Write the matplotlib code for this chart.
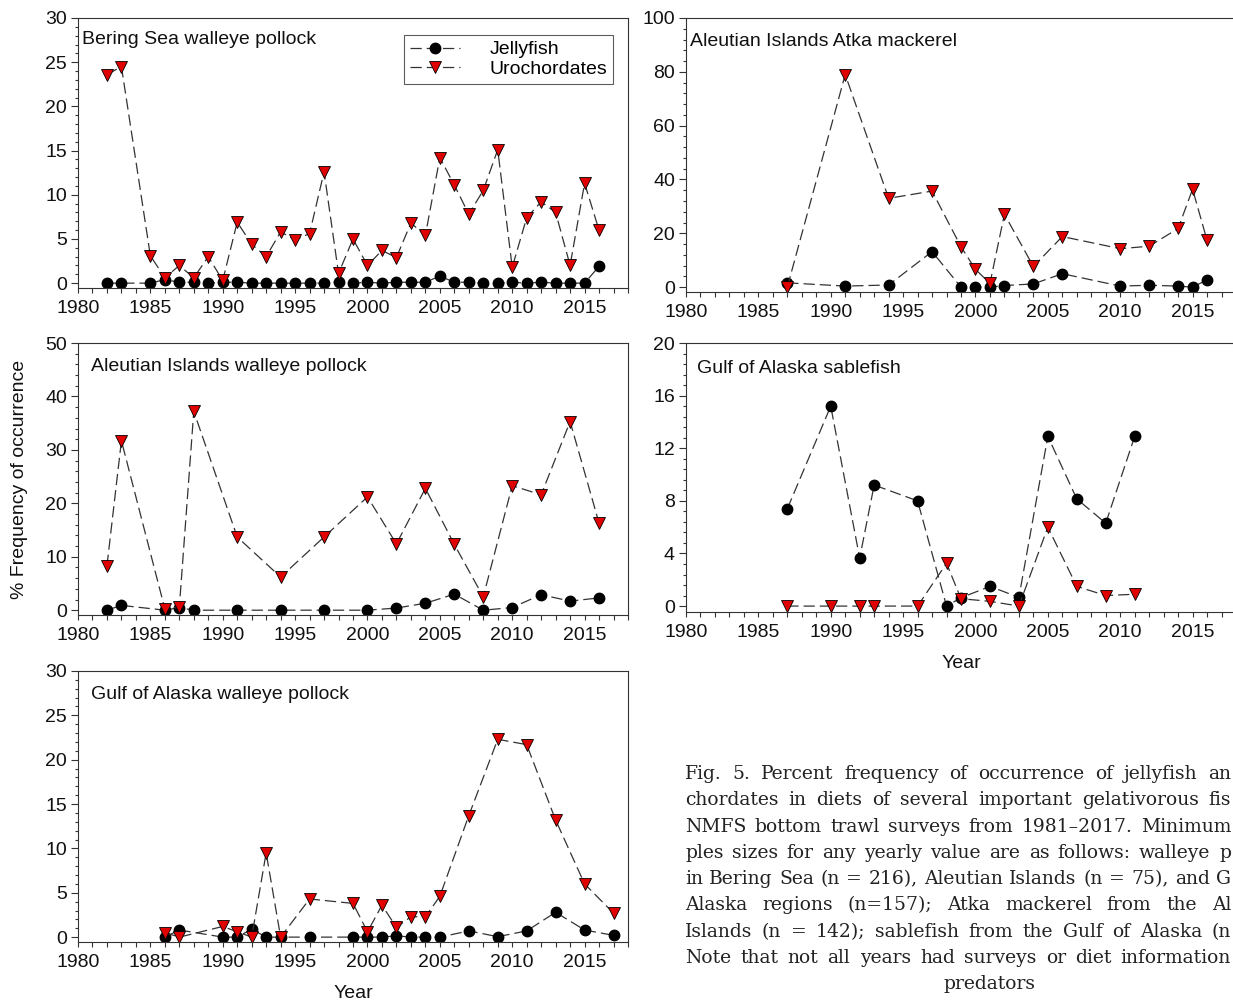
import matplotlib.pyplot as plt
from matplotlib.ticker import MultipleLocator, AutoMinorLocator

plt.rcParams['font.family'] = ['Liberation Sans', 'DejaVu Sans']

# Bering Sea walleye pollock
bs_years = [1982, 1983, 1985, 1986, 1987, 1988, 1989, 1990, 1991, 1992, 1993, 1994,
            1995, 1996, 1997, 1998, 1999, 2000, 2001, 2002, 2003, 2004, 2005, 2006,
            2007, 2008, 2009, 2010, 2011, 2012, 2013, 2014, 2015, 2016]
bs_jelly = [0, 0, 0, 0.4, 0.1, 0.1, 0, 0.1, 0.1, 0, 0, 0,
            0, 0, 0, 0.1, 0, 0.1, 0, 0.1, 0.1, 0.1, 0.8, 0.1,
            0.1, 0, 0, 0.1, 0, 0.1, 0, 0, 0, 1.9]
bs_uro = [23.6, 24.5, 3.1, 0.6, 2.0, 0.6, 3.0, 0.3, 6.9, 4.4, 3.0, 5.8,
          4.9, 5.6, 12.6, 1.1, 5.0, 2.0, 3.7, 2.9, 6.8, 5.4, 14.2, 11.1,
          7.8, 10.5, 15.1, 1.8, 7.4, 9.2, 8.0, 2.0, 11.3, 6.0]

# Aleutian Islands Atka mackerel
am_years = [1987, 1991, 1994, 1997, 1999, 2000, 2001, 2002, 2004, 2006, 2010, 2012,
            2014, 2015, 2016]
am_jelly = [1.6, 0.4, 0.8, 13.2, 0, 0, 0, 0.6, 1.2, 5.0, 0.4, 0.7, 0.4, 0, 2.7]
am_uro = [0, 79, 33, 35.7, 15, 6.6, 1.4, 27.1, 7.7, 18.8, 14.3, 15.2, 21.8, 36.4, 17.4]

# Aleutian Islands walleye pollock
ai_years = [1982, 1983, 1986, 1987, 1988, 1991, 1994, 1997, 2000, 2002, 2004, 2006,
            2008, 2010, 2012, 2014, 2016]
ai_jelly = [0, 0.9, 0, 0.5, 0, 0, 0, 0, 0, 0.4, 1.3, 3.0, 0, 0.5, 2.9, 1.7, 2.3]
ai_uro = [8.3, 31.7, 0.25, 0.55, 37.2, 13.7, 6.2, 13.7, 21.2, 12.4, 22.8, 12.3,
          2.5, 23.3, 21.6, 35.3, 16.3]

# Gulf of Alaska sablefish
sf_years = [1987, 1990, 1992, 1993, 1996, 1998, 1999, 2001, 2003, 2005, 2007, 2009, 2011]
sf_jelly = [7.4, 15.2, 3.65, 9.2, 8.0, 0, 0.63, 1.5, 0.66, 12.9, 8.15, 6.3, 12.9]
sf_uro = [0, 0, 0, 0, 0, 3.25, 0.56, 0.36, 0, 6.0, 1.5, 0.8, 0.9]

# Gulf of Alaska walleye pollock
ga_years = [1986, 1987, 1990, 1991, 1992, 1993, 1994, 1996, 1999, 2000, 2001, 2002,
            2003, 2004, 2005, 2007, 2009, 2011, 2013, 2015, 2017]
ga_jelly = [0, 0.8, 0, 0, 0.9, 0, 0, 0, 0, 0, 0, 0.15,
            0, 0, 0, 0.7, 0.05, 0.7, 2.8, 0.8, 0.2]
ga_uro = [0.5, 0, 1.2, 0.6, 0, 9.5, 0, 4.3, 3.8, 0.6, 3.6, 1.1,
          2.3, 2.3, 4.6, 13.7, 22.3, 21.7, 13.2, 6.0, 2.7]

caption = [
    "Fig. 5. Percent frequency of occurrence of jellyfish an",
    "chordates in diets of several important gelativorous fis",
    "NMFS bottom trawl surveys from 1981\u20132017. Minimum",
    "ples sizes for any yearly value are as follows: walleye p",
    "in Bering Sea (n = 216), Aleutian Islands (n = 75), and G",
    "Alaska regions (n=157); Atka mackerel from the Al",
    "Islands (n = 142); sablefish from the Gulf of Alaska (n",
    "Note that not all years had surveys or diet information",
]

W, H = 1233, 1006
fig = plt.figure(figsize=(W / 100, H / 100), dpi=100)


def box(left, top, right, bottom):
    return [left / W, 1 - bottom / H, (right - left) / W, (bottom - top) / H]


FS = 14
INK = '#333333'
RED = '#e00000'


def panel(rect, years, jelly, uro, title, ymax, ystep, ymin, tx, ty):
    ax = fig.add_axes(rect)
    ax.plot(years, jelly, color=INK, lw=0.9, dashes=(9, 4), marker='o', ms=7.5,
            mfc='black', mec='black', label='Jellyfish')
    ax.plot(years, uro, color=INK, lw=0.9, dashes=(9, 4), marker='v', ms=8.5,
            mfc=RED, mec='black', mew=0.6, label='Urochordates')
    ax.set_xlim(1980, 2018)
    ax.set_ylim(ymin, ymax)
    ax.xaxis.set_major_locator(MultipleLocator(5))
    ax.xaxis.set_minor_locator(MultipleLocator(1))
    ax.yaxis.set_major_locator(MultipleLocator(ystep))
    ax.yaxis.set_minor_locator(AutoMinorLocator(5))
    ax.tick_params(which='both', direction='out', color=INK, width=0.8,
                   labelsize=FS, labelcolor='#111111')
    ax.tick_params(axis='x', which='both', length=3.5, pad=5)
    ax.tick_params(axis='y', which='major', length=5, pad=3)
    ax.tick_params(axis='y', which='minor', length=2.5)
    for s in ax.spines.values():
        s.set_color(INK)
        s.set_linewidth(0.8)
    ax.text(tx, ty, title, transform=ax.transAxes, fontsize=FS, va='center',
            ha='left', color='#111111')
    return ax


ax1 = panel(box(78, 18, 628, 288), bs_years, bs_jelly, bs_uro,
            "Bering Sea walleye pollock", 30, 5, -0.55, 0.007, 0.922)
ax2 = panel(box(686, 18, 1236, 292), am_years, am_jelly, am_uro,
            "Aleutian Islands Atka mackerel", 100, 20, -1.8, 0.007, 0.916)
ax3 = panel(box(78, 343, 628, 615), ai_years, ai_jelly, ai_uro,
            "Aleutian Islands walleye pollock", 50, 10, -0.9, 0.024, 0.912)
ax4 = panel(box(686, 343, 1236, 612), sf_years, sf_jelly, sf_uro,
            "Gulf of Alaska sablefish", 20, 4, -0.45, 0.02, 0.907)
ax5 = panel(box(78, 671, 628, 942), ga_years, ga_jelly, ga_uro,
            "Gulf of Alaska walleye pollock", 30, 5, -0.55, 0.024, 0.915)

ax3.set_ylabel("% Frequency of occurrence", fontsize=FS, color='#111111', labelpad=12)
ax4.set_xlabel("Year", fontsize=FS, color='#111111', labelpad=10)
ax5.set_xlabel("Year", fontsize=FS, color='#111111', labelpad=10)

leg = ax1.legend(loc='upper right', bbox_to_anchor=(0.973, 0.937), borderaxespad=0,
                 fontsize=FS, frameon=True, fancybox=False, handlelength=2.6,
                 handletextpad=1.5, borderpad=0.3, labelspacing=0.1,
                 numpoints=1)
leg.get_frame().set_edgecolor(INK)
leg.get_frame().set_linewidth(0.8)

# figure caption: serif, one size for every line, justified word by word
renderer = fig.canvas.get_renderer()
cap_left, cap_right = 685, 1231
cap_w = cap_right - cap_left


def word_widths(line, size):
    objs = [fig.text(0, 0, w, fontsize=size, family='DejaVu Serif') for w in line.split(' ')]
    widths = [o.get_window_extent(renderer).width for o in objs]
    for o in objs:
        o.remove()
    return widths


cap_fs = 14.5
while any(sum(word_widths(l, cap_fs)) + 0.28 * cap_fs * 100 / 72 * (len(l.split(' ')) - 1) > cap_w
          for l in caption):
    cap_fs -= 0.25

for i, line in enumerate(caption):
    y = 1 - (774 + i * 26.3) / H
    words = line.split(' ')
    widths = word_widths(line, cap_fs)
    gap = (cap_w - sum(widths)) / (len(words) - 1)
    x = cap_left
    for w, wd in zip(words, widths):
        fig.text(x / W, y, w, fontsize=cap_fs, family='DejaVu Serif',
                 va='center', ha='left', color='#222222')
        x += wd + gap
fig.text(990 / W, 1 - 984 / H, "predators", fontsize=cap_fs, family='DejaVu Serif',
         va='center', ha='center', color='#222222')

fig.savefig('out.png', dpi=100)
